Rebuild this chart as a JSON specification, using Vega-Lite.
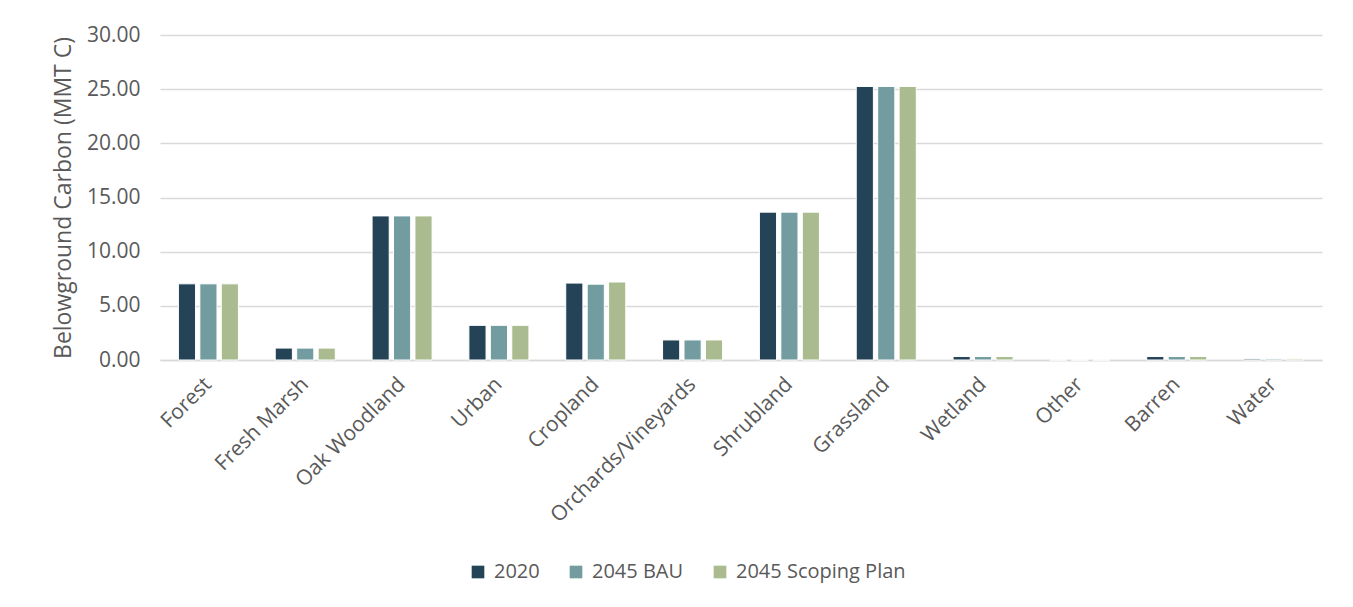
{
  "$schema": "https://vega.github.io/schema/vega-lite/v6.json",
  "autosize": "none",
  "width": 1162,
  "height": 325,
  "padding": {"left": 160, "top": 35, "right": 31, "bottom": 247},
  "background": "white",
  "config": {
    "font": "Open Sans",
    "view": {"stroke": null},
    "axis": {"labelColor": "#595959", "titleColor": "#595959", "labelFont": "Open Sans", "titleFont": "Open Sans"},
    "legend": {"labelColor": "#595959", "labelFont": "Open Sans"}
  },
  "data": {
    "values": [
      {"category": "Forest", "scenario": "2020", "value": 7.03},
      {"category": "Forest", "scenario": "2045 BAU", "value": 7.03},
      {"category": "Forest", "scenario": "2045 Scoping Plan", "value": 7.03},
      {"category": "Fresh Marsh", "scenario": "2020", "value": 1.1},
      {"category": "Fresh Marsh", "scenario": "2045 BAU", "value": 1.1},
      {"category": "Fresh Marsh", "scenario": "2045 Scoping Plan", "value": 1.1},
      {"category": "Oak Woodland", "scenario": "2020", "value": 13.3},
      {"category": "Oak Woodland", "scenario": "2045 BAU", "value": 13.3},
      {"category": "Oak Woodland", "scenario": "2045 Scoping Plan", "value": 13.3},
      {"category": "Urban", "scenario": "2020", "value": 3.2},
      {"category": "Urban", "scenario": "2045 BAU", "value": 3.2},
      {"category": "Urban", "scenario": "2045 Scoping Plan", "value": 3.2},
      {"category": "Cropland", "scenario": "2020", "value": 7.1},
      {"category": "Cropland", "scenario": "2045 BAU", "value": 7.0},
      {"category": "Cropland", "scenario": "2045 Scoping Plan", "value": 7.2},
      {"category": "Orchards/Vineyards", "scenario": "2020", "value": 1.85},
      {"category": "Orchards/Vineyards", "scenario": "2045 BAU", "value": 1.85},
      {"category": "Orchards/Vineyards", "scenario": "2045 Scoping Plan", "value": 1.85},
      {"category": "Shrubland", "scenario": "2020", "value": 13.65},
      {"category": "Shrubland", "scenario": "2045 BAU", "value": 13.65},
      {"category": "Shrubland", "scenario": "2045 Scoping Plan", "value": 13.65},
      {"category": "Grassland", "scenario": "2020", "value": 25.25},
      {"category": "Grassland", "scenario": "2045 BAU", "value": 25.25},
      {"category": "Grassland", "scenario": "2045 Scoping Plan", "value": 25.25},
      {"category": "Wetland", "scenario": "2020", "value": 0.32},
      {"category": "Wetland", "scenario": "2045 BAU", "value": 0.32},
      {"category": "Wetland", "scenario": "2045 Scoping Plan", "value": 0.32},
      {"category": "Other", "scenario": "2020", "value": 0},
      {"category": "Other", "scenario": "2045 BAU", "value": 0},
      {"category": "Other", "scenario": "2045 Scoping Plan", "value": 0},
      {"category": "Barren", "scenario": "2020", "value": 0.32},
      {"category": "Barren", "scenario": "2045 BAU", "value": 0.32},
      {"category": "Barren", "scenario": "2045 Scoping Plan", "value": 0.32},
      {"category": "Water", "scenario": "2020", "value": 0.1},
      {"category": "Water", "scenario": "2045 BAU", "value": 0.1},
      {"category": "Water", "scenario": "2045 Scoping Plan", "value": 0.1}
    ]
  },
  "mark": {"type": "bar", "stroke": "white", "strokeWidth": 1},
  "encoding": {
    "x": {
      "field": "category",
      "type": "nominal",
      "sort": null,
      "scale": {"paddingInner": 0.38, "paddingOuter": 0.19},
      "axis": {
        "title": null,
        "labelAngle": -45,
        "labelAlign": "right",
        "labelBaseline": "middle",
        "labelFontSize": 21,
        "labelPadding": 21,
        "labelLimit": 0,
        "ticks": false,
        "domainColor": "#D9D9D9",
        "domainWidth": 1.5
      }
    },
    "xOffset": {
      "field": "scenario",
      "type": "nominal",
      "scale": {"paddingInner": 0.2}
    },
    "y": {
      "field": "value",
      "type": "quantitative",
      "scale": {"domain": [0, 30], "nice": false},
      "axis": {
        "title": "Belowground Carbon (MMT C)",
        "titleFontSize": 23,
        "titleFontWeight": "normal",
        "titlePadding": 11,
        "values": [0, 5, 10, 15, 20, 25, 30],
        "format": ".2f",
        "labelFontSize": 21,
        "labelPadding": 20,
        "ticks": false,
        "domain": false,
        "gridColor": "#D9D9D9",
        "gridWidth": 1.5
      }
    },
    "color": {
      "field": "scenario",
      "type": "nominal",
      "scale": {
        "domain": ["2020", "2045 BAU", "2045 Scoping Plan"],
        "range": ["#244357", "#729CA0", "#A9BB8F"]
      },
      "legend": {
        "title": null,
        "orient": "none",
        "direction": "horizontal",
        "legendX": 308,
        "legendY": 527,
        "symbolType": "square",
        "symbolSize": 160,
        "symbolStrokeWidth": 0,
        "labelFontSize": 20,
        "labelLimit": 0,
        "labelOffset": 6,
        "columnPadding": 26
      }
    }
  }
}
